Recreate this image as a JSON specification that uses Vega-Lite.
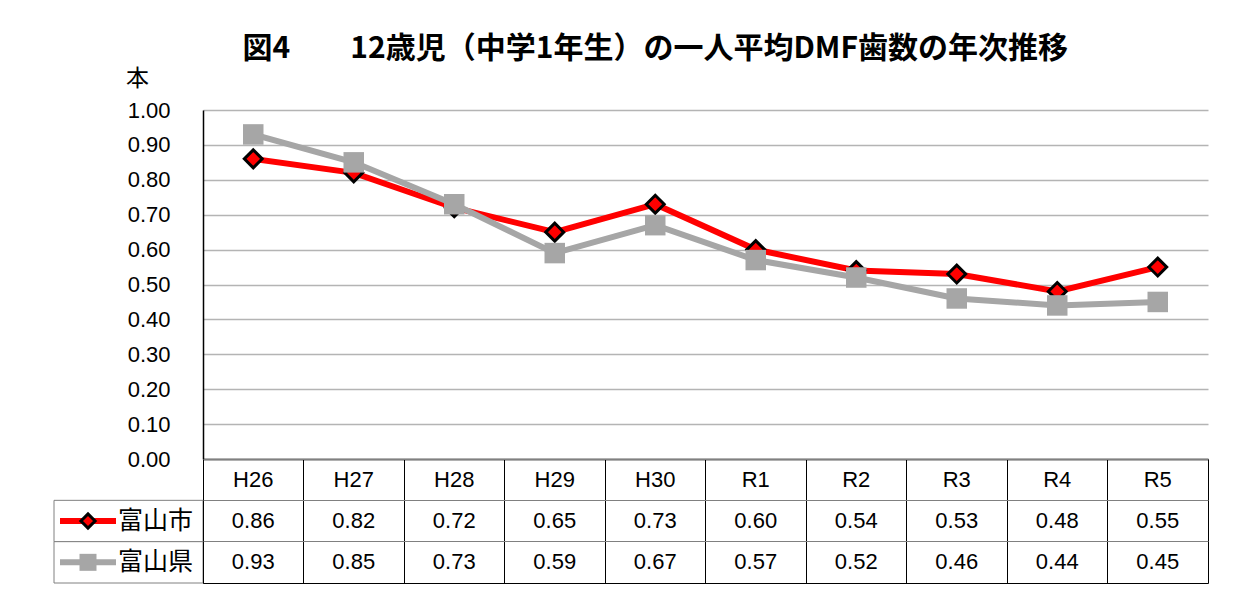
{
  "$schema": "https://vega.github.io/schema/vega-lite/v6.json",
  "padding": {"left": 48, "top": 34, "right": 5, "bottom": 5},
  "background": "white",
  "title": {"text": "図4　　12歳児（中学1年生）の一人平均DMF歯数の年次推移", "fontSize": 30, "font": "Noto Sans CJK JP", "fontWeight": "bold", "color": "black", "anchor": "middle", "dx": 27, "offset": 3},
  "datasets": {
    "vals": [
      {"year": "H26", "series": "富山市", "value": 0.86},
      {"year": "H27", "series": "富山市", "value": 0.82},
      {"year": "H28", "series": "富山市", "value": 0.72},
      {"year": "H29", "series": "富山市", "value": 0.65},
      {"year": "H30", "series": "富山市", "value": 0.73},
      {"year": "R1", "series": "富山市", "value": 0.60},
      {"year": "R2", "series": "富山市", "value": 0.54},
      {"year": "R3", "series": "富山市", "value": 0.53},
      {"year": "R4", "series": "富山市", "value": 0.48},
      {"year": "R5", "series": "富山市", "value": 0.55},
      {"year": "H26", "series": "富山県", "value": 0.93},
      {"year": "H27", "series": "富山県", "value": 0.85},
      {"year": "H28", "series": "富山県", "value": 0.73},
      {"year": "H29", "series": "富山県", "value": 0.59},
      {"year": "H30", "series": "富山県", "value": 0.67},
      {"year": "R1", "series": "富山県", "value": 0.57},
      {"year": "R2", "series": "富山県", "value": 0.52},
      {"year": "R3", "series": "富山県", "value": 0.46},
      {"year": "R4", "series": "富山県", "value": 0.44},
      {"year": "R5", "series": "富山県", "value": 0.45}
    ]
  },
  "columns": 2,
  "spacing": 0,
  "bounds": "flush",
  "align": "each",
  "resolve": {"scale": {"x": "independent", "y": "independent"}},
  "config": {"view": {"stroke": null}, "font": "Liberation Sans"},
  "concat": [
    {
      "width": 149,
      "height": 349,
      "data": {"values": [{"a": 1}]},
      "mark": {"type": "point", "opacity": 0},
      "encoding": {}
    },
    {
      "width": 1005,
      "height": 349,
      "data": {"name": "vals"},
      "encoding": {
        "x": {"field": "year", "type": "nominal", "sort": null, "scale": {"type": "point", "padding": 0.5},
              "axis": {"labels": false, "ticks": false, "title": null, "domainColor": "black", "domainWidth": 1.5, "grid": false}},
        "y": {"field": "value", "type": "quantitative", "scale": {"domain": [0, 1], "nice": false},
              "axis": {"values": [0, 0.1, 0.2, 0.3, 0.4, 0.5, 0.6, 0.7, 0.8, 0.9, 1], "format": ".2f",
                       "labelFontSize": 22, "labelColor": "black", "labelPadding": 33, "labelFont": "Liberation Sans",
                       "ticks": false, "domainColor": "black", "domainWidth": 1.5,
                       "gridColor": "#b4b4b4", "gridWidth": 1.5,
                       "title": "本", "titleAngle": 0, "titleX": -66, "titleY": -32, "titleAlign": "center", "titleBaseline": "middle",
                       "titleFontSize": 23, "titleFontWeight": "normal", "titleFont": "Noto Sans CJK JP", "titleColor": "black"}}
      },
      "layer": [
        {"transform": [{"filter": "datum.series === '富山市'"}], "mark": {"type": "line", "color": "#ff0000", "strokeWidth": 6}},
        {"transform": [{"filter": "datum.series === '富山市'"}], "mark": {"type": "point", "shape": "diamond", "filled": true, "fill": "#ff0000", "stroke": "black", "strokeWidth": 3, "size": 320, "opacity": 1}},
        {"transform": [{"filter": "datum.series === '富山県'"}], "mark": {"type": "line", "color": "#a6a6a6", "strokeWidth": 6}},
        {"transform": [{"filter": "datum.series === '富山県'"}], "mark": {"type": "point", "shape": "square", "filled": true, "color": "#a6a6a6", "size": 420, "opacity": 1}}
      ]
    },
    {
      "width": 149,
      "height": 124,
      "data": {"values": [{"series": "富山市"}, {"series": "富山県"}]},
      "encoding": {
        "y": {"field": "series", "type": "nominal", "scale": {"type": "band", "domain": ["年度", "富山市", "富山県"], "paddingInner": 0, "paddingOuter": 0}, "axis": null}
      },
      "layer": [
        {"mark": {"type": "rect", "fill": "white", "stroke": "#808080", "strokeWidth": 1}},
        {"transform": [{"filter": "datum.series === '富山市'"}], "mark": {"type": "point", "shape": "stroke", "filled": false, "stroke": "#ff0000", "strokeWidth": 6, "size": 3136, "xOffset": -40.5, "opacity": 1}},
        {"transform": [{"filter": "datum.series === '富山市'"}], "mark": {"type": "point", "shape": "diamond", "filled": true, "fill": "#ff0000", "stroke": "black", "strokeWidth": 3, "size": 200, "xOffset": -40.5, "opacity": 1}},
        {"transform": [{"filter": "datum.series === '富山県'"}], "mark": {"type": "point", "shape": "stroke", "filled": false, "stroke": "#a6a6a6", "strokeWidth": 6, "size": 3136, "xOffset": -40.5, "opacity": 1}},
        {"transform": [{"filter": "datum.series === '富山県'"}], "mark": {"type": "point", "shape": "square", "filled": true, "color": "#a6a6a6", "size": 289, "xOffset": -40.5, "opacity": 1}},
        {"mark": {"type": "text", "align": "right", "baseline": "middle", "dx": 64.5, "fontSize": 25, "font": "Noto Sans CJK JP", "color": "black"}, "encoding": {"text": {"field": "series"}}}
      ]
    },
    {
      "width": 1005,
      "height": 124,
      "view": {"stroke": "black", "strokeWidth": 1},
      "data": {"name": "vals"},
      "encoding": {
        "x": {"field": "year", "type": "nominal", "sort": null, "scale": {"type": "band", "paddingInner": 0, "paddingOuter": 0},
              "axis": {"orient": "top", "labels": false, "ticks": false, "domain": false, "grid": true, "gridColor": "black", "gridWidth": 1, "bandPosition": 0, "title": null}},
        "y": {"field": "series", "type": "nominal", "scale": {"type": "band", "domain": ["年度", "富山市", "富山県"], "paddingInner": 0, "paddingOuter": 0},
              "axis": {"labels": false, "ticks": false, "domain": false, "grid": true, "gridColor": "#808080", "gridWidth": 1, "bandPosition": 0, "title": null}}
      },
      "layer": [
        {"mark": {"type": "text", "fontSize": 22, "font": "Liberation Sans", "color": "black", "baseline": "middle"},
         "encoding": {"text": {"field": "value", "type": "quantitative", "format": ".2f"}}},
        {"transform": [{"filter": "datum.series === '富山市'"}],
         "mark": {"type": "text", "fontSize": 22, "font": "Liberation Sans", "color": "black", "baseline": "middle"},
         "encoding": {"y": {"datum": "年度", "type": "nominal"}, "text": {"field": "year", "type": "nominal"}}}
      ]
    }
  ]
}
